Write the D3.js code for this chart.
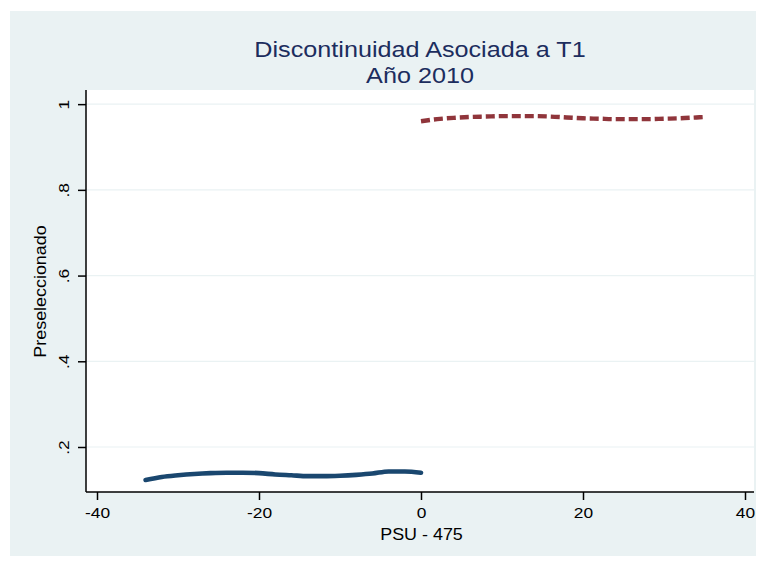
<!DOCTYPE html>
<html>
<head>
<meta charset="utf-8">
<script src="https://cdn.jsdelivr.net/npm/d3@7"></script>
<style>
  body { margin: 0; background: #fff; }
  text { font-family: "Liberation Sans", Arial, sans-serif; }
</style>
</head>
<body>
<svg id="chart" width="764" height="564"></svg>
<script>
// Data
const xTicks = [-40, -20, 0, 20, 40];
const yTicks = [0.2, 0.4, 0.6, 0.8, 1];
const yTickLabels = ['.2', '.4', '.6', '.8', '1'];

const leftX = [-34, -32, -30, -28, -26, -24, -22, -20, -18, -16, -14, -12, -10, -8, -6, -4, -2, 0];
const leftY = [0.123, 0.130, 0.134, 0.137, 0.139, 0.140, 0.140, 0.139, 0.136, 0.134, 0.132, 0.132, 0.133, 0.135, 0.138, 0.143, 0.143, 0.140];

const rightX = [0, 2, 4, 6, 8, 10, 12, 14, 16, 18, 20, 22, 24, 26, 28, 30, 32, 34, 35];
const rightY = [0.960, 0.965, 0.968, 0.970, 0.971, 0.972, 0.972, 0.972, 0.971, 0.969, 0.967, 0.966, 0.965, 0.965, 0.965, 0.966, 0.967, 0.969, 0.970];

const svg = d3.select('#chart');
const stretch = 1.12; // Stata's font runs a bit wider than Liberation Sans

// Outer background
svg.append('rect')
    .attr('x', 10).attr('y', 11)
    .attr('width', 746).attr('height', 545)
    .attr('fill', '#eaf2f3');

// Plot region
const plot = { left: 86, right: 754, top: 90, bottom: 492 };

svg.append('rect')
    .attr('x', plot.left).attr('y', plot.top)
    .attr('width', plot.right - plot.left)
    .attr('height', plot.bottom - plot.top)
    .attr('fill', '#fff');

const x = d3.scaleLinear().domain([-40, 40]).range([97, 745]);
const y = d3.scaleLinear().domain([0.095, 1.033]).range([plot.bottom, plot.top]);

// Grid lines
svg.append('g')
    .selectAll('line')
    .data(yTicks)
    .join('line')
    .attr('x1', plot.left).attr('x2', plot.right)
    .attr('y1', d => y(d)).attr('y2', d => y(d))
    .attr('stroke', '#eaf2f3')
    .attr('stroke-width', 1.2);

// Series
const line = d3.line()
    .x(d => x(d[0]))
    .y(d => y(d[1]))
    .curve(d3.curveMonotoneX);

svg.append('path')
    .datum(d3.zip(leftX, leftY))
    .attr('d', line)
    .attr('fill', 'none')
    .attr('stroke', '#1a476f')
    .attr('stroke-width', 4.6)
    .attr('stroke-linecap', 'round');

svg.append('path')
    .datum(d3.zip(rightX, rightY))
    .attr('d', line)
    .attr('fill', 'none')
    .attr('stroke', '#90353b')
    .attr('stroke-width', 4.4)
    .attr('stroke-dasharray', '9,4');

// Y axis
const yAxis = d3.axisLeft(y)
    .tickValues(yTicks)
    .tickSize(8)
    .tickFormat((d, i) => yTickLabels[i]);

const yg = svg.append('g')
    .attr('transform', `translate(${plot.left},0)`)
    .call(yAxis);
yg.select('.domain').attr('d', `M0,${plot.top}V${plot.bottom}`).attr('stroke', '#000').attr('stroke-width', 1.5);
yg.selectAll('.tick line').attr('stroke', '#000').attr('stroke-width', 1.5);
yg.selectAll('.tick text')
    .attr('font-size', 15.5)
    .attr('fill', '#000')
    .attr('text-anchor', 'middle')
    .attr('x', 0).attr('dy', 0)
    .attr('transform', `translate(-17.5,0) rotate(-90) scale(${stretch},1)`);

// X axis
const xAxis = d3.axisBottom(x)
    .tickValues(xTicks)
    .tickSize(8)
    .tickFormat(d => d < 0 ? '-' + Math.abs(d) : d);

const xg = svg.append('g')
    .attr('transform', `translate(0,${plot.bottom})`)
    .call(xAxis);
xg.select('.domain').attr('d', `M${plot.left},0H${plot.right}`).attr('stroke', '#000').attr('stroke-width', 1.5);
xg.selectAll('.tick line').attr('stroke', '#000').attr('stroke-width', 1.5);
xg.selectAll('.tick text')
    .attr('font-size', 15.5)
    .attr('fill', '#000')
    .attr('y', 0).attr('dy', 0)
    .attr('transform', `translate(0,26) scale(${stretch},1)`);

// Axis titles
svg.append('text')
    .attr('transform', `translate(421.5,540) scale(${stretch},1)`)
    .attr('text-anchor', 'middle')
    .attr('font-size', 16)
    .text('PSU - 475');

svg.append('text')
    .attr('transform', `translate(45.5,291.5) rotate(-90) scale(${stretch},1)`)
    .attr('text-anchor', 'middle')
    .attr('font-size', 16)
    .text('Preseleccionado');

// Title
svg.append('text')
    .attr('transform', `translate(420,57) scale(${stretch},1)`)
    .attr('text-anchor', 'middle')
    .attr('font-size', 22.5)
    .attr('fill', '#1c2d5e')
    .text('Discontinuidad Asociada a T1');

svg.append('text')
    .attr('transform', `translate(420,83) scale(${stretch},1)`)
    .attr('text-anchor', 'middle')
    .attr('font-size', 22.5)
    .attr('fill', '#1c2d5e')
    .text('Año 2010');
</script>
</body>
</html>
